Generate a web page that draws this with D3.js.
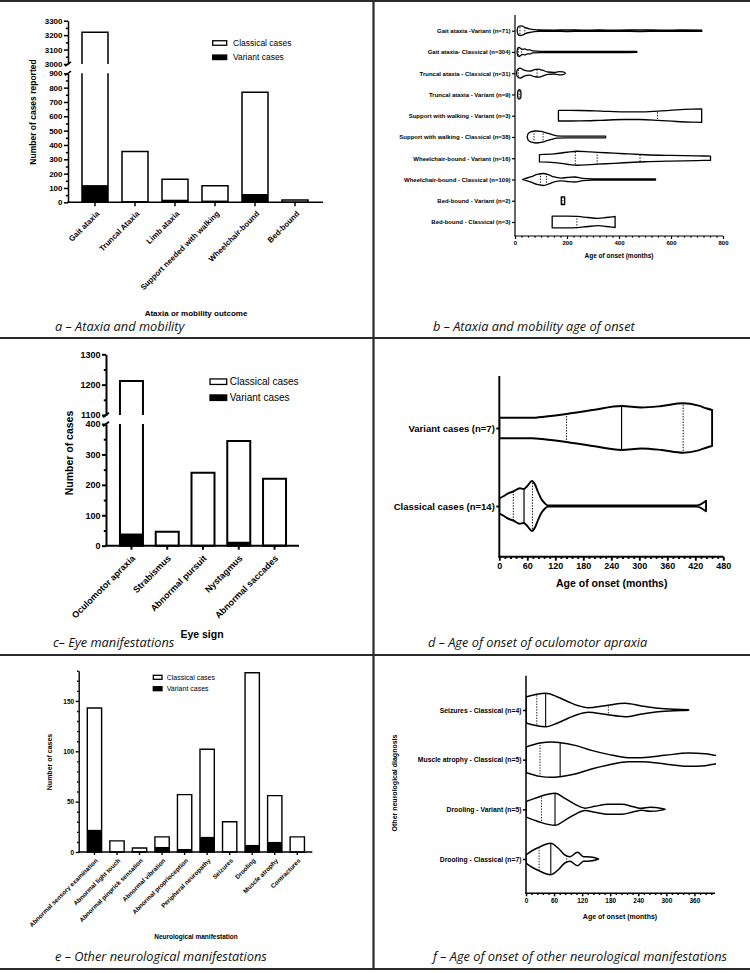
<!DOCTYPE html>
<html>
<head>
<meta charset="utf-8">
<script src="https://cdn.jsdelivr.net/npm/d3@7"></script>
<style>
  body { margin: 0; background: #fff; }
  svg { display: block; }
  .ax text { font-family: "Liberation Sans", Arial, sans-serif; font-weight: bold; fill: #000; }
  .lab { font-family: "Liberation Sans", Arial, sans-serif; fill: #000; }
  .cap { font-family: "Open Sans", sans-serif; font-style: italic; fill: #111; }
</style>
</head>
<body>
<script>
"use strict";

// ---- a: ataxia and mobility (counts) ----
var ataxiaCats = ["Gait ataxia", "Truncal Ataxia", "Limb ataxia", "Support needed with walking", "Wheelchair-bound", "Bed-bound"];
var ataxiaVariant = [120, 8, 18, 12, 58, 3];
var ataxiaClassical = [3100, 347, 142, 103, 710, 13];

// ---- c: eye signs (counts) ----
var eyeCats = ["Oculomotor apraxia", "Strabismus", "Abnormal pursuit", "Nystagmus", "Abnormal saccades"];
var eyeVariant = [40, 2, 0, 13, 3];
var eyeClassical = [1172, 44, 240, 331, 217];

// ---- e: other neurological manifestations (counts) ----
var neuroCats = ["Abnormal sensory examination", "Abnormal light touch", "Abnormal pinprick sensation", "Abnormal vibration",
  "Abnormal proprioception", "Peripheral neuropathy", "Seizures", "Drooling", "Muscle atrophy", "Contractures"];
var neuroVariant = [22, 0, 1, 5, 3, 15, 0, 7, 10, 0];
var neuroClassical = [121, 11, 3, 10, 54, 87, 30, 171, 46, 15];

// ---- b: ataxia / mobility age of onset, violin profiles [months, relative density] ----
var mobilityRows = ["Gait ataxia -Variant (n=71)", "Gait ataxia- Classical (n=304)", "Truncal ataxia - Classical (n=31)",
  "Truncal ataxia - Variant (n=9)", "Support with walking - Variant (n=3)", "Support with walking - Classical (n=38)",
  "Wheelchair-bound - Variant (n=16)", "Wheelchair-bound - Classical (n=109)", "Bed-bound  - Variant (n=2)", "Bed-bound - Classical (n=3)"];
var mobilityProfiles = [
  [[8,0],[11,3.5],[20,4.8],[28,4.5],[40,3],[55,1.8],[75,1],[90,0.7],[150,0.6],[200,0.8],[260,0.6],[320,0.7],[400,0.6],[480,0.8],[560,0.6],[640,0.7],[718,0.6],[719,0]],
  [[8,0],[10,3.5],[15,4.5],[22,3.5],[30,2.5],[38,3],[48,2],[58,2],[68,1],[100,0.6],[200,0.55],[300,0.55],[400,0.55],[468,0.5],[469,0]],
  [[6,0],[8,3],[19,5],[35,3],[57,2],[75,3.5],[89,4],[105,3],[127,1.2],[150,0.8],[170,1.6],[185,1.4],[194,0]],
  [[10,0],[11,3.5],[16,4.7],[22,3.5],[23,0]],
  [[167,5.3],[250,5.2],[330,4.6],[420,3.8],[480,3.8],[550,4.6],[620,5.8],[680,6.5],[718,6.7]],
  [[47,0],[50,3],[60,5],[80,6],[100,5.5],[120,4],[140,2.5],[160,1.2],[200,0.8],[250,0.9],[300,0.8],[348,0.8],[349,0]],
  [[94,3.7],[150,4.3],[200,6],[240,7],[290,6.3],[350,5.5],[420,4.5],[500,3.5],[600,2.8],[700,2.3],[752,2.2]],
  [[29,0],[40,1],[60,2.5],[85,5],[110,6],[130,4.5],[150,2.5],[178,1.4],[200,2],[230,2.5],[260,1.1],[300,0.6],[400,0.55],[540,0.5],[541,0]],
  [[178,3.8],[191,3.8]],
  [[143,5.8],[200,5.8],[240,5.6],[280,4.5],[320,3.7],[350,4.5],[385,5.5]]
];
var mobilityLines = [[19, 38], [13, 25], [13, 85], [16], [548], [73, 108], [232, 316, 481], [98, 121], [184], [238]];

// ---- d: oculomotor apraxia age of onset ----
var apraxiaRows = ["Variant cases (n=7)", "Classical cases (n=14)"];
var apraxiaProfiles = [
  [[0,10.3],[40,10.3],[69,10.2],[100,11.5],[144,14],[200,18],[262,22],[305,20.5],[348,22],[394,24.7],[427,22.3],[445,19.5],[456,18]],
  [[0,7.7],[10,10],[19,12.7],[30,14.5],[44,17.7],[52,17],[60,20],[70,25],[77,21],[83,14],[90,7],[97,3],[104,0.6],[200,0.6],[300,0.6],[423,0.6],[443,5.3]]
];
var apraxiaMedians = [262, 53];
var apraxiaQuartiles = [[144, 394], [30, 71]];

// ---- f: other neurological manifestations age of onset ----
var otherRows = ["Seizures - Classical (n=4)", "Muscle atrophy - Classical (n=5)", "Drooling - Variant (n=5)", "Drooling - Classical (n=7)"];
var otherProfiles = [
  [[0,13],[23,15.7],[42,16.7],[66,13.3],[90,8.3],[112,4.3],[133,2.3],[169,4.3],[212,6.7],[247,4],[283,1.7],[318,0.7],[347,0.3],[348,0]],
  [[0,12.7],[30,16.7],[55,17.7],[73,17],[105,14.3],[140,9.3],[176,5.3],[219,2],[247,2],[297,4.3],[347,6.7],[383,6],[404,4.3],[420,3]],
  [[0,7.7],[19,11],[33,13.3],[62,16],[83,11],[105,5],[126,1.2],[147,3],[176,5],[205,5],[230,2.5],[247,1],[265,2],[290,0.8],[297,0]],
  [[0,4],[12,8],[26,11.3],[53,15.7],[69,10.7],[83,4],[94,2.3],[110,6.7],[123,2.3],[137,2],[147,1.3],[155,0]]
];
var otherMedians = [42, 73, 62, 53];
var otherQuartiles = [[23, 176], [30], [33], [28, 87]];

var svg = d3.select("body").append("svg").attr("width", 750).attr("height", 973);
var defs = svg.append("defs");

// frame
[[0, 1, 750, 1], [0, 338, 750, 338], [0, 655, 750, 655], [0, 969, 750, 969], [373.5, 0, 373.5, 969]].forEach(function(l) {
  svg.append("line").attr("x1", l[0]).attr("y1", l[1]).attr("x2", l[2]).attr("y2", l[3])
    .attr("stroke", "#2a2a2a").attr("stroke-width", 2.2);
});

function styleAxis(sel, sw, fs) {
  sel.selectAll("line, path").attr("stroke", "#000").attr("stroke-width", sw);
  sel.selectAll("text").style("font-size", fs + "px");
}

// piecewise scale for broken y axes
function brokenScale(parts) {
  var segs = parts.map(function(p) { return d3.scaleLinear().domain(p.domain).range(p.range); });
  var f = function(v) {
    var s = segs.find(function(s) { return v >= s.domain()[0] && v <= s.domain()[1]; });
    return s ? s(v) : null;
  };
  f.segs = segs;
  return f;
}

function barPanel(o) {
  var g = svg.append("g");
  var x = d3.scaleBand().domain(o.cats).range(o.xRange).paddingInner(o.padIn).paddingOuter(o.padOut);
  var y = brokenScale(o.yParts);
  var y0 = y(0);

  // y axis, one piece per segment
  y.segs.forEach(function(s, i) {
    var p = o.yParts[i];
    var ax = g.append("g").attr("class", "ax").attr("transform", "translate(" + o.axisX + ",0)")
      .call(d3.axisLeft(s).tickValues(p.ticks).tickFormat(d3.format("d")).tickSize(o.tick).tickSizeOuter(0).tickPadding(1.5));
    var minor = d3.range(p.domain[0], p.domain[1] + 1e-6, p.minor).filter(function(v) { return p.ticks.indexOf(v) < 0; });
    ax.append("g").call(d3.axisLeft(s).tickValues(minor).tickSize(o.tick * 0.55).tickFormat(""))
      .select(".domain").remove();
    styleAxis(ax, o.sw, o.tickFont);
    if (i > 0) {
      // break marks
      [o.yParts[i - 1].range[1], p.range[0]].forEach(function(yy) {
        g.append("line").attr("x1", o.axisX - 3).attr("x2", o.axisX + 3)
          .attr("y1", yy + 2.2).attr("y2", yy - 2.2).attr("stroke", "#000").attr("stroke-width", o.sw);
      });
    }
  });

  var bars = o.cats.map(function(c, i) {
    return { cat: c, variant: o.variant[i], total: o.variant[i] + o.classical[i] };
  });

  g.selectAll(".var").data(bars).join("rect").attr("class", "var")
    .attr("x", function(d) { return x(d.cat); })
    .attr("y", function(d) { return y(d.variant); })
    .attr("width", x.bandwidth())
    .attr("height", function(d) { return y0 - y(d.variant); })
    .attr("fill", "#000");

  // bar outlines, split where the axis is broken
  g.selectAll(".tot").data(bars).join("path").attr("class", "tot")
    .attr("d", function(d) {
      var bx = x(d.cat), bw = x.bandwidth(), path = "";
      y.segs.forEach(function(s, k) {
        var lo = s.domain()[0], hi = s.domain()[1];
        if (k > 0 && d.total <= lo) return;
        var yb = s(lo), yt = s(Math.min(d.total, hi)), open = d.total > hi;
        if (k === 0 && !open) {
          path += "M" + bx + "," + yb + "V" + yt + "H" + (bx + bw) + "V" + yb + "Z";
        } else if (k === 0) {
          path += "M" + bx + "," + yt + "V" + yb + "H" + (bx + bw) + "V" + yt;
        } else {
          path += "M" + bx + "," + yb + "V" + yt + "H" + (bx + bw) + "V" + yb;
        }
      });
      return path;
    })
    .attr("fill", "none").attr("stroke", "#000").attr("stroke-width", o.sw).attr("stroke-linejoin", "miter");

  // x axis
  var xa = g.append("g").attr("class", "ax").attr("transform", "translate(0," + y0 + ")")
    .call(d3.axisBottom(x).tickSize(o.tick).tickSizeOuter(0));
  xa.select(".domain").remove();
  xa.append("line").attr("x1", o.axisX - o.sw / 2).attr("x2", o.axisEnd);
  styleAxis(xa, o.sw, o.labFont);
  xa.selectAll(".tick text").attr("x", 0).attr("y", 0).attr("dy", "0.35em")
    .attr("transform", "translate(" + o.lab[0] + "," + o.lab[1] + ") rotate(-45)")
    .style("text-anchor", "end");

  g.append("text").attr("class", "lab").attr("x", o.xTitle[0]).attr("y", o.xTitle[1])
    .attr("text-anchor", "middle").style("font-weight", "bold").style("font-size", o.titleFont + "px").text(o.xLabel);
  g.append("text").attr("class", "lab").attr("transform", "translate(" + o.yTitle[0] + "," + o.yTitle[1] + ") rotate(-90)")
    .attr("text-anchor", "middle").style("font-weight", "bold").style("font-size", o.yTitleFont + "px").text(o.yLabel);

  // legend
  var lg = g.append("g").attr("transform", "translate(" + o.legend[0] + "," + o.legend[1] + ")");
  [["Classical cases", "#fff"], ["Variant cases", "#000"]].forEach(function(it, i) {
    var yy = i * o.legend[2];
    lg.append("rect").attr("x", 0).attr("y", yy - o.legend[4] / 2).attr("width", o.legend[3]).attr("height", o.legend[4])
      .attr("fill", it[1]).attr("stroke", "#000").attr("stroke-width", 1.3);
    lg.append("text").attr("class", "lab").attr("x", o.legend[3] + o.legend[5]).attr("y", yy).attr("dy", "0.35em")
      .style("font-size", o.legendFont + "px").text(it[0]);
  });
}

function violinPanel(o) {
  var g = svg.append("g");
  var x = d3.scaleLinear().domain(o.xDomain).range(o.xRange);
  var y = d3.scalePoint().domain(o.rows).range(o.yRange);
  var maxD = d3.max(o.profiles, function(p) { return d3.max(p, function(d) { return d[1]; }); });
  var w = d3.scaleLinear().domain([0, maxD]).range([0, o.maxHalf]);

  defs.append("clipPath").attr("id", o.id + "plot").append("rect")
    .attr("x", o.xRange[0]).attr("y", o.yTop).attr("width", o.xRange[1] - o.xRange[0] + 1).attr("height", o.yBottom - o.yTop);
  var vg = g.append("g").attr("clip-path", "url(#" + o.id + "plot)");

  o.rows.forEach(function(r, i) {
    var cy = y(r);
    var area = d3.area().x(function(d) { return x(d[0]); })
      .y0(function(d) { return cy - w(d[1]); }).y1(function(d) { return cy + w(d[1]); })
      .curve(d3.curveMonotoneX);
    var cid = o.id + "v" + i;
    defs.append("clipPath").attr("id", cid).append("path").attr("d", area(o.profiles[i]));
    vg.append("path").attr("d", area(o.profiles[i])).attr("fill", "#fff")
      .attr("stroke", "#000").attr("stroke-width", o.sw).attr("stroke-linejoin", "round");
    var lines = o.quartiles[i].map(function(a) { return { a: a, dot: true }; });
    if (o.medians) lines.push({ a: o.medians[i], dot: false });
    lines.forEach(function(l) {
      vg.append("line").attr("x1", x(l.a)).attr("x2", x(l.a)).attr("y1", cy - 40).attr("y2", cy + 40)
        .attr("clip-path", "url(#" + cid + ")")
        .attr("stroke", "#000").attr("stroke-width", l.dot ? o.lw * 0.8 : o.lw)
        .attr("stroke-dasharray", l.dot ? "1.4,1.4" : null);
    });
  });

  // y axis
  var ya = g.append("g").attr("class", "ax").attr("transform", "translate(" + o.xRange[0] + ",0)")
    .call(d3.axisLeft(y).tickSize(3).tickPadding(1.5));
  ya.select(".domain").remove();
  ya.append("line").attr("y1", o.yTop).attr("y2", o.yBottom);
  styleAxis(ya, o.axSw, o.rowFont);

  // x axis
  var xa = g.append("g").attr("class", "ax").attr("transform", "translate(0," + o.yBottom + ")")
    .call(d3.axisBottom(x).tickValues(o.ticks).tickFormat(d3.format("d")).tickSize(o.tick).tickSizeOuter(0).tickPadding(2));
  var minor = d3.range(o.xDomain[0], o.xDomain[1] + 1e-6, o.minor).filter(function(v) { return o.ticks.indexOf(v) < 0; });
  xa.append("g").call(d3.axisBottom(x).tickValues(minor).tickSize(o.tick * 0.55).tickFormat(""))
    .select(".domain").remove();
  xa.select(".domain").attr("d", "M" + (o.xRange[0] - o.axSw / 2) + ",0H" + o.xRange[1]);
  styleAxis(xa, o.axSw, o.tickFont);

  g.append("text").attr("class", "lab").attr("x", o.xTitle[0]).attr("y", o.xTitle[1])
    .attr("text-anchor", "middle").style("font-weight", "bold").style("font-size", o.titleFont + "px").text("Age of onset (months)");
  if (o.yLabel) {
    g.append("text").attr("class", "lab").attr("transform", "translate(" + o.yTitle[0] + "," + o.yTitle[1] + ") rotate(-90)")
      .attr("text-anchor", "middle").style("font-weight", "bold").style("font-size", o.titleFont + "px").text(o.yLabel);
  }
}

// ---- panel a ----
barPanel({
  cats: ataxiaCats, variant: ataxiaVariant, classical: ataxiaClassical,
  xRange: [75, 315], padIn: 0.35, padOut: 0.175, axisX: 68, axisEnd: 323,
  yParts: [
    { domain: [0, 900], range: [202.3, 73.3], ticks: d3.range(0, 901, 100), minor: 50 },
    { domain: [3000, 3300], range: [64, 20.7], ticks: [3000, 3100, 3200, 3300], minor: 50 }
  ],
  tick: 4, sw: 1.5, tickFont: 8, labFont: 7.8, lab: [3, 10],
  xLabel: "Ataxia or mobility outcome", xTitle: [196, 316], titleFont: 8,
  yLabel: "Number of cases reported", yTitle: [36, 112], yTitleFont: 8.5,
  legend: [212.7, 43, 14.3, 14, 4.5, 6.3], legendFont: 8.5
});

// ---- panel c ----
barPanel({
  cats: eyeCats, variant: eyeVariant, classical: eyeClassical,
  xRange: [113.6, 292.4], padIn: 0.357, padOut: 0.178, axisX: 106, axisEnd: 299,
  yParts: [
    { domain: [0, 400], range: [545.7, 424], ticks: [0, 100, 200, 300, 400], minor: 50 },
    { domain: [1100, 1300], range: [415, 354.3], ticks: [1100, 1200, 1300], minor: 50 }
  ],
  tick: 4, sw: 2, tickFont: 9, labFont: 9, lab: [2, 11],
  xLabel: "Eye sign", xTitle: [202, 638], titleFont: 10.5,
  yLabel: "Number of cases", yTitle: [73, 453], yTitleFont: 10.5,
  legend: [210, 381.7, 16, 16.7, 5.5, 3], legendFont: 10
});

// ---- panel e ----
barPanel({
  cats: neuroCats, variant: neuroVariant, classical: neuroClassical,
  xRange: [83.25, 308.5], padIn: 0.365, padOut: 0.18, axisX: 78.7, axisEnd: 312.3,
  yParts: [
    { domain: [0, 180], range: [852, 670.7], ticks: [0, 50, 100, 150], minor: 10 }
  ],
  tick: 3, sw: 1.4, tickFont: 6.5, labFont: 6.3, lab: [2.2, 7.5],
  xLabel: "Neurological manifestation", xTitle: [196, 938.5], titleFont: 6.5,
  yLabel: "Number of cases", yTitle: [51.5, 762], yTitleFont: 7,
  legend: [153.3, 677.3, 11.4, 8.7, 4, 4.7], legendFont: 7
});

// ---- panel b ----
violinPanel({
  id: "b", rows: mobilityRows, profiles: mobilityProfiles, quartiles: mobilityLines, medians: null,
  xDomain: [0, 800], xRange: [515, 723], yRange: [30.7, 222], yTop: 15, yBottom: 236,
  maxHalf: 7, sw: 1.3, lw: 1.1, axSw: 1.2, tick: 3, ticks: [0, 200, 400, 600, 800], minor: 25,
  rowFont: 6, tickFont: 6, titleFont: 6.5, xTitle: [619, 258]
});

// ---- panel d ----
violinPanel({
  id: "d", rows: apraxiaRows, profiles: apraxiaProfiles, quartiles: apraxiaQuartiles, medians: apraxiaMedians,
  xDomain: [0, 480], xRange: [499.3, 723.3], yRange: [428, 506], yTop: 376, yBottom: 556.7,
  maxHalf: 25, sw: 1.9, lw: 1.2, axSw: 1.9, tick: 4, ticks: d3.range(0, 481, 60), minor: 12,
  rowFont: 9.5, tickFont: 9, titleFont: 10.5, xTitle: [611.7, 586.5]
});

// ---- panel f ----
violinPanel({
  id: "f", rows: otherRows, profiles: otherProfiles, quartiles: otherQuartiles, medians: otherMedians,
  xDomain: [0, 404], xRange: [526, 715], yRange: [710, 859], yTop: 675.7, yBottom: 893.3,
  maxHalf: 17.7, sw: 1.5, lw: 1.1, axSw: 1.5, tick: 3, ticks: d3.range(0, 361, 60), minor: 12,
  rowFont: 6.8, tickFont: 6.5, titleFont: 7, xTitle: [620, 918.5],
  yLabel: "Other neurological diagnosis", yTitle: [396.5, 783]
});

// captions
[["a \u2013 Ataxia and mobility", 55, 330.5], ["b \u2013 Ataxia and mobility age of onset", 433, 330.5],
 ["c\u2013 Eye manifestations", 53, 647], ["d \u2013 Age of onset of oculomotor apraxia", 428, 647],
 ["e \u2013 Other neurological manifestations", 55, 961], ["f \u2013 Age of onset of other neurological manifestations", 433, 961]
].forEach(function(c) {
  svg.append("text").attr("class", "cap").attr("x", c[1]).attr("y", c[2]).style("font-size", "12.8px").text(c[0]);
});
</script>
</body>
</html>
